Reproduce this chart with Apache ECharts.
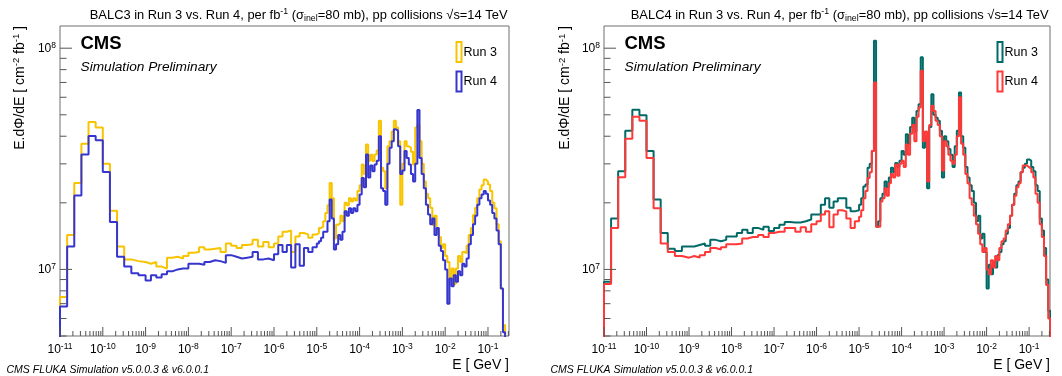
<!DOCTYPE html>
<html>
<head>
<meta charset="utf-8">
<script src="https://cdn.jsdelivr.net/npm/echarts@6.0.0/dist/echarts.min.js"></script>
<style>
  html, body { margin: 0; padding: 0; background: #ffffff; }
  #chart { width: 1062px; height: 376px; }
</style>
</head>
<body>
<div id="chart"></div>
<script>
// Flux values are stored in units of 1e6 cm^-2 fb^-1.
const FLUX_UNIT = 1e6;

// Energy binning in log10(E / GeV): [from, to, number of bins]
const BIN_SEGMENTS = [[-11, -9, 12], [-9, -6, 24], [-6, -5, 10], [-5, -0.5, 90]];

const E_MIN = 1e-11, E_MAX = 0.31;
const FLUX_MIN = 5e6, FLUX_MAX = 1.26e8;
const X_DECADES = [-11, -10, -9, -8, -7, -6, -5, -4, -3, -2, -1];
const Y_DECADES = [7, 8];
const Y_MINOR_DECADES = [6, 7];
const MINOR_STEPS = [2, 3, 4, 5, 6, 7, 8, 9];

const SERIES_NAMES = ['Run 3', 'Run 4'];

// BALC3, Run 3
const BALC3_RUN3 = [
  7.5, 14.3, 24.6, 37.0, 46.4, 43.8, 30.0, 18.4, 12.7, 11.1, 10.9, 10.8,
  10.6, 10.8, 10.3, 10.1, 11.3, 11.4, 11.2, 11.5, 11.9, 12.0, 12.6, 12.3,
  12.4, 12.5, 12.0, 13.1, 12.8, 12.5, 12.9, 13.0, 13.6, 12.7, 13.3, 12.6,
  13.1, 14.1, 14.8, 15.0, 12.0, 14.1, 14.6, 14.4, 13.9, 14.4,
  14.6, 15.4, 15.6, 16.5, 18.0, 19.5, 24.6, 21.0, 13.8, 15.9,
  16.2, 17.5, 16.5, 20.0, 19.5, 21.0, 20.3, 21.0, 20.5, 22.6,
  24.0, 29.8, 27.0, 36.7, 31.0, 33.0, 30.9, 33.1, 34.5, 47.0,
  28.8, 27.8, 23.3, 36.0, 38.0, 42.0, 47.0, 43.8, 38.0, 19.6,
  30.0, 38.0, 36.0, 35.5, 34.0, 29.8, 43.8, 45.0, 38.0, 30.0,
  25.0, 22.0, 21.0, 19.0, 15.9, 17.5, 15.4, 14.0, 12.5, 13.0,
  11.5, 10.8, 9.0, 10.1, 8.6, 10.1, 11.5, 10.8, 12.0, 11.8,
  12.8, 14.3, 15.4, 17.6, 19.0, 21.0, 23.0, 24.0, 25.5, 25.0,
  24.2, 22.6, 20.0, 18.9, 16.0, 13.4, 8.2, 5.6, 4.5, 4.0
];

// BALC3, Run 4
const BALC3_RUN4 = [
  6.8, 12.7, 21.6, 33.1, 40.1, 38.4, 27.6, 16.4, 11.4, 10.3, 9.6, 9.4,
  8.9, 9.4, 9.2, 9.5, 9.8, 10.0, 10.1, 10.1, 10.6, 10.6, 10.5, 10.8,
  11.0, 10.9, 10.7, 11.6, 11.4, 11.2, 11.3, 11.4, 12.0, 11.1, 11.2, 11.0,
  11.7, 12.9, 12.0, 12.9, 10.2, 13.0, 10.4, 12.5, 12.0, 12.6,
  13.1, 13.4, 13.9, 14.8, 14.8, 16.5, 20.7, 17.0, 12.3, 13.0,
  14.3, 13.6, 14.8, 18.3, 17.5, 18.9, 18.0, 18.9, 18.3, 19.6,
  21.8, 25.9, 23.5, 33.1, 26.0, 29.5, 27.8, 29.8, 31.0, 40.0,
  23.3, 22.6, 19.6, 30.0, 35.5, 38.0, 43.0, 42.4, 36.0, 27.0,
  28.0, 34.3, 31.9, 29.8, 27.0, 25.0, 30.0, 52.5, 31.9, 27.0,
  23.3, 19.6, 17.7, 16.0, 17.0, 14.3, 15.4, 12.8, 12.1, 11.0,
  10.0, 7.0, 9.1, 8.4, 9.4, 8.8, 9.8, 9.4, 10.6, 10.3,
  11.2, 13.0, 14.3, 16.0, 17.5, 19.6, 21.0, 21.8, 22.6, 22.0,
  20.5, 19.6, 18.0, 17.0, 15.0, 13.0, 8.2, 5.2, 4.0, 3.5
];

// BALC4, Run 3
const BALC4_RUN3 = [
  8.8, 17.0, 27.8, 42.4, 52.7, 49.7, 34.3, 20.7, 14.6, 12.4, 12.1, 12.7,
  12.7, 12.9, 13.1, 12.8, 13.6, 13.4, 13.6, 14.1, 14.1, 14.6, 15.1, 14.6,
  15.4, 15.1, 15.6, 14.9, 15.4, 15.9, 16.4, 16.3, 16.3, 16.5, 16.8, 17.7,
  17.7, 19.6, 21.0, 19.0, 20.3, 21.0, 21.0, 19.0, 18.3, 18.5,
  19.6, 21.0, 23.7, 24.2, 28.8, 30.0, 34.3, 108.0, 15.6, 16.5,
  21.0, 22.0, 25.0, 23.5, 26.0, 28.8, 27.5, 30.3, 29.0, 31.0,
  34.3, 33.0, 40.8, 37.0, 44.0, 48.5, 42.0, 52.0, 55.8, 91.0,
  35.5, 40.0, 23.3, 44.0, 62.0, 50.0, 48.5, 47.0, 42.4, 26.0,
  40.0, 38.0, 35.0, 33.0, 29.0, 36.0, 42.4, 63.0, 40.0, 35.5,
  29.0, 26.0, 24.0, 22.6, 20.0, 16.5, 17.5, 13.8, 14.5, 12.0,
  8.2, 10.5, 9.5, 10.8, 10.2, 11.6, 12.0, 13.0, 13.4, 14.5,
  15.4, 17.5, 19.6, 22.0, 24.0, 25.0, 27.5, 28.8, 30.0, 31.4,
  31.0, 29.0, 27.8, 24.0, 22.6, 17.0, 15.0, 12.5, 9.0, 6.5
];

// BALC4, Run 4
const BALC4_RUN4 = [
  8.6, 15.4, 26.1, 39.0, 49.0, 47.0, 31.9, 18.9, 13.1, 12.0, 11.5, 11.3,
  11.5, 11.3, 11.6, 12.0, 12.5, 12.3, 12.6, 13.0, 13.0, 13.1, 13.8, 14.0,
  14.0, 14.3, 14.0, 14.6, 14.8, 14.8, 15.4, 15.4, 14.8, 15.5, 14.8, 16.0,
  16.5, 17.7, 18.3, 15.5, 17.7, 18.5, 18.3, 17.0, 15.4, 16.5,
  17.3, 18.5, 21.0, 22.6, 25.9, 27.5, 34.3, 70.0, 15.6, 15.6,
  20.3, 21.0, 23.3, 21.5, 24.5, 27.0, 26.0, 29.8, 26.5, 30.0,
  31.0, 29.0, 36.7, 33.0, 41.0, 45.0, 38.0, 49.0, 54.0, 79.0,
  38.0, 42.0, 25.0, 45.0, 55.0, 52.0, 47.0, 45.0, 40.0, 28.0,
  38.0, 36.0, 33.0, 31.0, 30.0, 33.0, 40.0, 60.0, 37.0, 33.0,
  27.0, 24.5, 21.0, 19.6, 17.5, 16.0, 14.5, 13.0, 12.0, 12.5,
  10.0, 9.5, 11.0, 10.2, 11.5, 11.0, 12.5, 13.4, 13.8, 15.0,
  16.0, 17.5, 19.6, 21.5, 23.5, 24.5, 27.5, 29.5, 29.5, 29.0,
  28.5, 27.5, 26.0, 22.0, 20.0, 16.0, 14.0, 11.5, 8.5, 6.0
];

const FONT = '"Liberation Sans", Arial, Helvetica, sans-serif';
const AXIS_COLOR = '#555555';
const FRAME_COLOR = '#6e6e6e';

const PANELS = [
  {
    detector: 'BALC3',
    grid: { left: 60, top: 26, width: 449, height: 310 },
    runs: [BALC3_RUN3, BALC3_RUN4],
    colors: ['#f8c400', '#3636cf'],
    yTitleX: 20, footerX: 6.5
  },
  {
    detector: 'BALC4',
    grid: { left: 604, top: 26, width: 446, height: 310 },
    runs: [BALC4_RUN3, BALC4_RUN4],
    colors: ['#006b66', '#ff3838'],
    yTitleX: 565.5, footerX: 550.5
  }
];

// Bin edges in GeV built from the segment table
const EDGES = (function () {
  const edges = [];
  BIN_SEGMENTS.forEach(function (seg, si) {
    const a = seg[0], b = seg[1], n = seg[2];
    for (let k = si === 0 ? 0 : 1; k <= n; k++) edges.push(Math.pow(10, a + (b - a) * k / n));
  });
  return edges;
})();

// Histogram outline: rises from below the axis, steps across every bin, drops at the end
const FLOOR = 1e6;
function histPoints(values) {
  const pts = [[EDGES[0], FLOOR]];
  values.forEach(function (v, i) { pts.push([EDGES[i], v * FLUX_UNIT]); });
  const last = values.length;
  pts.push([EDGES[last], values[last - 1] * FLUX_UNIT]);
  pts.push([EDGES[last], FLOOR]);
  return pts;
}

function richSet(main, small, color) {
  return {
    t: { fontSize: main, fontFamily: FONT, fill: color, color: color, lineHeight: main + 3 },
    sup: { fontSize: small, fontFamily: FONT, fill: color, color: color, lineHeight: small - 3, verticalAlign: 'top' },
    sub: { fontSize: small, fontFamily: FONT, fill: color, color: color, lineHeight: small - 3, verticalAlign: 'bottom' }
  };
}
const TICK_RICH = richSet(12, 8.5, '#000');

// Axis ticks (decades and 2..9 subdivisions) and power-of-ten labels
function renderAxisDecor(params, api) {
  const kids = [];
  function seg(a, b) {
    kids.push({ type: 'line', shape: { x1: a[0], y1: a[1], x2: b[0], y2: b[1] },
      style: { stroke: AXIS_COLOR, lineWidth: 1 } });
  }
  function label(text, x, y, align, vAlign) {
    kids.push({ type: 'text', x: x, y: y,
      style: { text: text, rich: TICK_RICH, align: align, verticalAlign: vAlign,
               textAlign: align, textVerticalAlign: vAlign } });
  }
  X_DECADES.forEach(function (e) {
    const base = Math.pow(10, e);
    const p = api.coord([base, FLUX_MIN]);
    seg(p, [p[0], p[1] - 9]);
    label('{t|10}{sup|' + e + '}', p[0], p[1] + 6, 'center', 'top');
    MINOR_STEPS.forEach(function (m) {
      if (m * base <= E_MAX) {
        const q = api.coord([m * base, FLUX_MIN]);
        seg(q, [q[0], q[1] - 5]);
      }
    });
  });
  Y_DECADES.forEach(function (e) {
    const p = api.coord([E_MIN, Math.pow(10, e)]);
    seg(p, [p[0] + 12, p[1]]);
    label('{t|10}{sup|' + e + '}', p[0] - 4, p[1], 'right', 'middle');
  });
  Y_MINOR_DECADES.forEach(function (e) {
    MINOR_STEPS.forEach(function (m) {
      const v = m * Math.pow(10, e);
      if (v >= FLUX_MIN && v <= FLUX_MAX) {
        const q = api.coord([E_MIN, v]);
        seg(q, [q[0] + 6.5, q[1]]);
      }
    });
  });
  return { type: 'group', children: kids };
}

const grids = [], xAxes = [], yAxes = [], series = [], graphics = [];

PANELS.forEach(function (panel, idx) {
  const g = panel.grid;
  grids.push({ left: g.left, top: g.top, width: g.width, height: g.height,
    show: true, borderColor: FRAME_COLOR, borderWidth: 1, backgroundColor: 'transparent' });
  xAxes.push({ type: 'log', logBase: 10, gridIndex: idx, min: E_MIN, max: E_MAX,
    axisLine: { show: false }, axisTick: { show: false }, axisLabel: { show: false },
    splitLine: { show: false }, minorTick: { show: false } });
  yAxes.push({ type: 'log', logBase: 10, gridIndex: idx, min: FLUX_MIN, max: FLUX_MAX,
    axisLine: { show: false }, axisTick: { show: false }, axisLabel: { show: false },
    splitLine: { show: false }, minorTick: { show: false } });

  panel.runs.forEach(function (values, r) {
    series.push({
      type: 'line', name: panel.detector + ' ' + SERIES_NAMES[r],
      xAxisIndex: idx, yAxisIndex: idx,
      data: histPoints(values), step: 'end',
      symbol: 'none', showSymbol: false, clip: true, silent: true,
      lineStyle: { color: panel.colors[r], width: 2 },
      itemStyle: { color: panel.colors[r] },
      emphasis: { disabled: true }, animation: false, z: 3 + r
    });
  });

  series.push({
    type: 'custom', xAxisIndex: idx, yAxisIndex: idx,
    data: [[E_MIN, FLUX_MIN]], renderItem: renderAxisDecor,
    clip: false, silent: true, animation: false, z: 10
  });

  const right = g.left + g.width;
  const titleRich = richSet(12.9, 8.8, '#000');
  graphics.push({
    type: 'text', x: right - 1.5, y: 15,
    style: { text: '{t|' + panel.detector + ' in Run 3 vs. Run 4, per fb}{sup|-1}{t| (σ}{sub|inel}{t|=80 mb), pp collisions √s=14 TeV}',
      rich: titleRich, align: 'right', verticalAlign: 'middle', textAlign: 'right', textVerticalAlign: 'middle' }
  });
  graphics.push({
    type: 'text', x: panel.yTitleX, y: g.top, rotation: Math.PI / 2,
    style: { text: '{t|E.dΦ/dE [ cm}{sup|-2}{t| fb}{sup|-1}{t| ]}',
      rich: richSet(14, 9.5, '#000'), align: 'right', verticalAlign: 'middle', textAlign: 'right', textVerticalAlign: 'middle' }
  });
  graphics.push({
    type: 'text', x: right, y: 365,
    style: { text: 'E [ GeV ]', font: '14px ' + FONT, fill: '#000', align: 'right', verticalAlign: 'middle', textAlign: 'right', textVerticalAlign: 'middle' }
  });
  graphics.push({
    type: 'text', x: panel.footerX, y: 370,
    style: { text: 'CMS FLUKA Simulation v5.0.0.3 & v6.0.0.1', font: 'italic 10.5px ' + FONT, fill: '#000', align: 'left', verticalAlign: 'middle', textAlign: 'left', textVerticalAlign: 'middle' }
  });
  graphics.push({
    type: 'text', x: g.left + 20.5, y: 44,
    style: { text: 'CMS', font: 'bold 18.5px ' + FONT, fill: '#000', align: 'left', verticalAlign: 'middle', textAlign: 'left', textVerticalAlign: 'middle' }
  });
  graphics.push({
    type: 'text', x: g.left + 20.5, y: 67.5,
    style: { text: 'Simulation Preliminary', font: 'italic 13.7px ' + FONT, fill: '#000', align: 'left', verticalAlign: 'middle', textAlign: 'left', textVerticalAlign: 'middle' }
  });
  // Legend: outlined boxes with run labels
  SERIES_NAMES.forEach(function (name, r) {
    const boxX = right - 52.5, boxY = 42 + r * 29.5;
    graphics.push({
      type: 'rect', shape: { x: boxX, y: boxY, width: 5, height: 20 },
      style: { fill: 'none', stroke: panel.colors[r], lineWidth: 2 }
    });
    graphics.push({
      type: 'text', x: boxX + 7, y: boxY + 10.5,
      style: { text: name, font: '12.5px ' + FONT, fill: '#000', align: 'left', verticalAlign: 'middle', textAlign: 'left', textVerticalAlign: 'middle' }
    });
  });
});

const chart = echarts.init(document.getElementById('chart'), null, { renderer: 'canvas' });
chart.setOption({
  animation: false,
  backgroundColor: '#ffffff',
  grid: grids,
  xAxis: xAxes,
  yAxis: yAxes,
  series: series,
  graphic: graphics
});
</script>
</body>
</html>
